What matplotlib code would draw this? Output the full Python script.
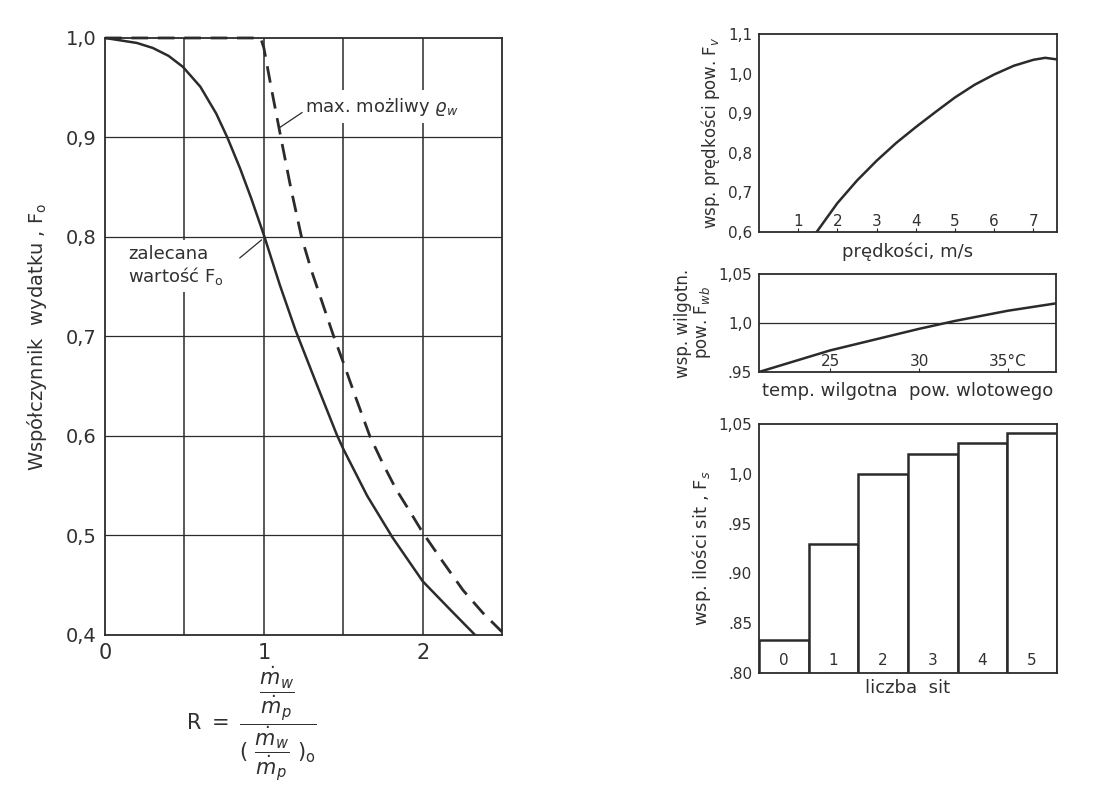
import numpy as np
import matplotlib.pyplot as plt

# left chart: flow coefficient vs R
r_solid = [0.0, 0.2, 0.3, 0.4, 0.49, 0.6, 0.7, 0.77, 0.85, 0.92, 1.0, 1.1, 1.2, 1.33,
           1.46, 1.5, 1.65, 1.81, 2.0, 2.17, 2.33]
f_solid = [1.0, 0.995, 0.99, 0.982, 0.971, 0.951, 0.924, 0.9, 0.869, 0.839, 0.802, 0.752,
           0.706, 0.653, 0.601, 0.587, 0.54, 0.498, 0.454, 0.426, 0.4]
r_dash = [0.0, 0.5, 0.98, 1.0, 1.05, 1.107, 1.17, 1.237, 1.30, 1.37, 1.44, 1.5, 1.58, 1.667,
          1.75, 1.834, 1.92, 2.0, 2.125, 2.254, 2.38, 2.5]
f_dash = [1.0, 1.0, 1.0, 0.99, 0.947, 0.9, 0.849, 0.8, 0.766, 0.733, 0.7, 0.674, 0.638, 0.6,
          0.572, 0.546, 0.524, 0.503, 0.474, 0.445, 0.422, 0.403]
left_xticks = [0, 1, 2]
left_yticks = [0.4, 0.5, 0.6, 0.7, 0.8, 0.9, 1.0]
left_ylabels = ["0,4", "0,5", "0,6", "0,7", "0,8", "0,9", "1,0"]

# top right: velocity coefficient
v = [1.47, 2.0, 2.5, 3.0, 3.5, 4.0, 4.5, 5.0, 5.5, 6.0, 6.5, 7.0, 7.3, 7.6]
fv = [0.6, 0.673, 0.73, 0.78, 0.825, 0.865, 0.903, 0.94, 0.972, 0.998, 1.02, 1.035, 1.04, 1.036]
v_ticks = [1, 2, 3, 4, 5, 6, 7]
fv_yticks = [0.6, 0.7, 0.8, 0.9, 1.0, 1.1]
fv_ylabels = ["0,6", "0,7", "0,8", "0,9", "1,0", "1,1"]

# middle right: wet bulb temperature coefficient
twb = [21.0, 25.0, 30.0, 32.0, 35.0, 37.7]
fwb = [0.95, 0.972, 0.994, 1.002, 1.0125, 1.02]
twb_ticks = [25, 30, 35]
twb_labels = ["25", "30", "35°C"]
fwb_yticks = [0.95, 1.0, 1.05]
fwb_ylabels = [".95", "1,0", "1,05"]

# bottom right: number of screens
sit = [0, 1, 2, 3, 4, 5]
fs = [0.833, 0.93, 1.0, 1.02, 1.031, 1.041]
fs_yticks = [0.80, 0.85, 0.90, 0.95, 1.0, 1.05]
fs_ylabels = [".80", ".85", ".90", ".95", "1,0", "1,05"]

ink = "#2b2b2b"
txt = "#303030"
plt.rcParams["font.family"] = "DejaVu Sans"
plt.rcParams["mathtext.fontset"] = "dejavusans"

fig = plt.figure(figsize=(11.14, 7.96), dpi=100)

# ---- left panel
ax = fig.add_axes([0.0943, 0.2023, 0.3564, 0.75])
ax.set_xlim(0, 2.5)
ax.set_ylim(0.4, 1.0)
for xg in [0.5, 1.0, 1.5, 2.0]:
    ax.axvline(xg, color=ink, lw=1.1, zorder=1)
for yg in [0.5, 0.6, 0.7, 0.8, 0.9]:
    ax.axhline(yg, color=ink, lw=0.9, zorder=1)
ax.plot(r_solid, f_solid, color=ink, lw=1.8, zorder=3)
ax.plot(r_dash, f_dash, color=ink, lw=2.0, ls=(0, (6, 3.5)), zorder=3, clip_on=False)
ax.set_xticks(left_xticks)
ax.set_xticklabels([str(t) for t in left_xticks], fontsize=15, color=txt)
ax.set_yticks(left_yticks)
ax.set_yticklabels(left_ylabels, fontsize=14, color=txt)
ax.tick_params(length=0, pad=6)
for s in ax.spines.values():
    s.set_color(ink)
    s.set_linewidth(1.3)
ax.set_ylabel("Współczynnik  wydatku , F$_\\mathrm{o}$", fontsize=14, color=txt, labelpad=12)

ax.text(0.145, 0.771, "zalecana\nwartość F$_\\mathrm{o}$", fontsize=13, color=txt,
        va="center", ha="left", linespacing=1.1, zorder=2,
        bbox=dict(facecolor="white", edgecolor="none", pad=4))
ax.plot([0.985, 0.849], [0.797, 0.779], color=ink, lw=0.9, zorder=3)
ax.text(1.26, 0.931, "max. możliwy $\\varrho_w$", fontsize=13, color=txt,
        va="center", ha="left", zorder=2,
        bbox=dict(facecolor="white", edgecolor="none", pad=4))
ax.plot([1.10, 1.24], [0.910, 0.925], color=ink, lw=0.9, zorder=3)

fig.text(0.226, 0.091,
         r"$\mathrm{R}\ =\ \dfrac{\dfrac{\dot{m}_w}{\dot{m}_p}}{(\ \dfrac{\dot{m}_w}{\dot{m}_p}\ )_\mathrm{o}}$",
         fontsize=15, color=txt, ha="center", va="center")

# ---- top right panel
ax1 = fig.add_axes([0.6813, 0.7085, 0.2675, 0.2487])
ax1.plot(v, fv, color=ink, lw=1.8)
ax1.set_xlim(0, 7.6)
ax1.set_ylim(0.6, 1.1)
ax1.set_yticks(fv_yticks)
ax1.set_yticklabels(fv_ylabels, fontsize=11, color=txt)
ax1.set_xticks(v_ticks)
ax1.set_xticklabels([])
ax1.tick_params(axis="x", direction="in", length=3, color=ink)
ax1.tick_params(axis="y", length=0, pad=5)
for t in v_ticks:
    ax1.text(t, 0.607, str(t), ha="center", va="bottom", fontsize=11, color=txt)
ax1.set_xlabel("prędkości, m/s", fontsize=13, color=txt, labelpad=4)
ax1.set_ylabel("wsp. prędkości pow. F$_v$", fontsize=12, color=txt, labelpad=4)

# ---- middle right panel
ax2 = fig.add_axes([0.6813, 0.5327, 0.2666, 0.1231])
ax2.plot(twb, fwb, color=ink, lw=1.8)
ax2.axhline(1.0, color=ink, lw=0.9)
ax2.set_xlim(21.0, 37.7)
ax2.set_ylim(0.95, 1.05)
ax2.set_yticks(fwb_yticks)
ax2.set_yticklabels(fwb_ylabels, fontsize=11, color=txt)
ax2.set_xticks(twb_ticks)
ax2.set_xticklabels([])
ax2.tick_params(axis="x", direction="in", length=3, color=ink)
ax2.tick_params(axis="y", length=0, pad=5)
for t, lab in zip(twb_ticks, twb_labels):
    ax2.text(t, 0.953, lab, ha="center", va="bottom", fontsize=11, color=txt)
ax2.set_xlabel("temp. wilgotna  pow. wlotowego", fontsize=13, color=txt, labelpad=4)
ax2.set_ylabel("wsp. wilgotn.\npow. F$_{wb}$", fontsize=12, color=txt, labelpad=4,
               linespacing=1.0)

# ---- bottom right panel
ax3 = fig.add_axes([0.6813, 0.1545, 0.2675, 0.3128])
ax3.bar(sit, fs, width=1.0, color="white", edgecolor=ink, linewidth=1.8)
ax3.set_xlim(-0.5, 5.5)
ax3.set_ylim(0.80, 1.05)
ax3.set_yticks(fs_yticks)
ax3.set_yticklabels(fs_ylabels, fontsize=11, color=txt)
ax3.set_xticks([])
ax3.tick_params(axis="y", length=0, pad=5)
for s_, lab in zip(sit, sit):
    ax3.text(s_, 0.813, str(lab), ha="center", va="center", fontsize=11, color=txt)
ax3.set_xlabel("liczba  sit", fontsize=13, color=txt, labelpad=4)
ax3.set_ylabel("wsp. ilości sit , F$_s$", fontsize=13, color=txt, labelpad=4)

for a in (ax1, ax2, ax3):
    for s in a.spines.values():
        s.set_color(ink)
        s.set_linewidth(1.3)

fig.savefig("out.png", dpi=100, facecolor="white")
